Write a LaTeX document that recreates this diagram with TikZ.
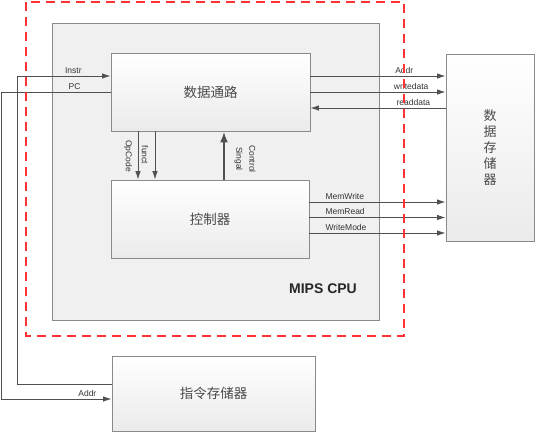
\documentclass[tikz,border=0pt]{standalone}
\usepackage{fontspec}
\setmainfont{Liberation Sans}
\newfontfamily\cjk{Noto Sans CJK SC}
\usetikzlibrary{arrows.meta}
\definecolor{edge}{HTML}{8A8A8A}
\definecolor{wire}{HTML}{505050}
\definecolor{cpufill}{HTML}{F0F0F0}
\definecolor{txt}{HTML}{4A4A4A}

\begin{document}
\begin{tikzpicture}[x=1pt,y=-1pt,
  box/.style={draw=edge,line width=0.9pt,top color=white,bottom color=black!8,inner sep=0pt,font=\cjk\fontsize{13.5}{15}\selectfont,text=txt},
  conn/.style={draw=wire,line width=0.9pt},
  lab/.style={font=\fontsize{8.5}{10}\selectfont,text=black!80,inner sep=2pt},
  >={Latex[length=8.5pt,width=5.5pt]}]
\useasboundingbox (0,0) rectangle (536,432);
% cpu frame
\node[draw=edge,line width=0.9pt,fill=cpufill,minimum width=327pt,minimum height=297pt,inner sep=0pt] (cpu) at (215.5,171.5) {};
\node[font=\bfseries\fontsize{14}{16}\selectfont,text=black!85] (cpulab) at (323,289) {MIPS CPU};
% blocks
\node[box,minimum width=199pt,minimum height=78pt] (dp) at (210.5,92) {数据通路};
\node[box,minimum width=198pt,minimum height=78pt] (ctrl) at (210,219) {控制器};
\node[box,minimum width=88pt,minimum height=187pt,align=center,font=\cjk\fontsize{13}{16}\selectfont] (dmem) at (490,147.5) {数\\据\\存\\储\\器};
\node[box,minimum width=203pt,minimum height=75pt] (imem) at (213.5,393.5) {指令存储器};
% instruction fetch
\draw[conn,->] ([yshift=9.5pt]imem.west) -- ++(-94,0) |- ([yshift=16pt]dp.west) node[lab,pos=0.8,above] (linstr) {Instr};
\draw[conn,->] (dp.west) -- node[lab,pos=0.33,above] (lpc) {PC} ++(-109,0) |- ([yshift=-5.5pt]imem.west) node[lab,pos=0.89,above] (liaddr) {Addr};
% decode
\coordinate (opx) at (138,0);
\coordinate (fnx) at (155,0);
\coordinate (csx) at (224,0);
\draw[conn,->] (dp.south -| opx) -- (ctrl.north -| opx);
\draw[conn,->] (dp.south -| fnx) -- (ctrl.north -| fnx);
\draw[draw=wire,line width=2.6pt,-{Latex[length=11pt,width=8pt]}] (ctrl.north -| csx) -- (dp.south -| csx);
\node[lab,rotate=-90] (lop) at (128,156) {OpCode};
\node[lab,rotate=-90] (lfn) at (145,155) {funct};
\node[lab,rotate=-90,align=center,font=\fontsize{8.5}{13}\selectfont] (lcs) at (245,159) {Control\\Singal};
% memory bus
\draw[conn,->] ([yshift=16pt]dp.east) coordinate (ta) -- (ta -| dmem.west) node[lab,anchor=south west,pos=0.61] (laddr) {Addr};
\draw[conn,->] (dp.east) -- (dp.east -| dmem.west) node[lab,anchor=south west,pos=0.6] (lwd) {writedata};
\draw[conn,<-] ([yshift=-16pt]dp.east) coordinate (tr) -- (tr -| dmem.west) node[lab,anchor=south west,pos=0.62] (lrd) {readdata};
% control signals
\foreach \dy/\sig in {17/MemWrite,1.5/MemRead,-14/WriteMode}
  \draw[conn,->] ([yshift=\dy pt]ctrl.east) coordinate (ts) -- (ts -| dmem.west) node[lab,anchor=south west,pos=0.1] {\sig};
% boundary
\draw[red!80,line width=1.6pt,dash pattern=on 9pt off 6pt] (26,2) rectangle (404,336);
\end{tikzpicture}
\end{document}
